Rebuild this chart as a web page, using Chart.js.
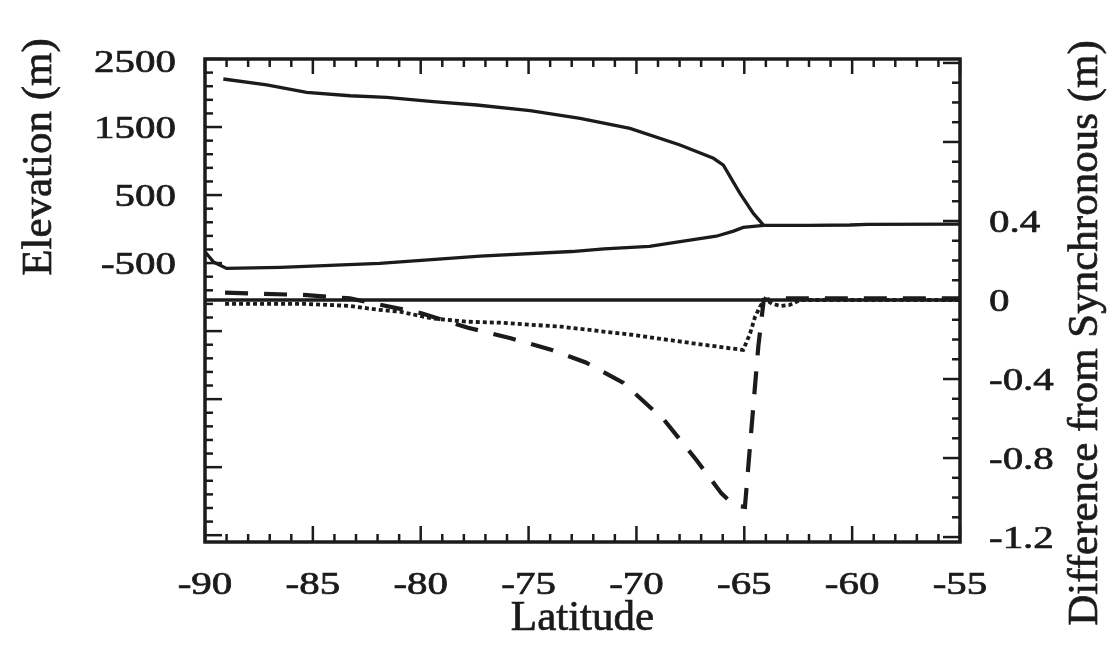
<!DOCTYPE html>
<html>
<head>
<meta charset="utf-8">
<script src="https://cdn.jsdelivr.net/npm/chart.js@4/dist/chart.umd.min.js"></script>
<style>
  html, body { margin: 0; padding: 0; background: #fff; }
  canvas { display: block; }
</style>
</head>
<body>
<canvas id="chart" width="1120" height="657"></canvas>
<script>
// ===== Data =====
// ice surface (m), left axis
const surfaceLat  = [-89.15, -87.14, -85.29, -83.28, -81.58, -79.42, -77.4, -74.93, -72.61, -70.3, -67.98, -66.43, -65.97, -65.2, -64.58, -64.1];
const surfaceElev = [2206, 2118, 2010, 1960, 1937, 1872, 1824, 1740, 1628, 1481, 1235, 1040, 941, 525, 230, 55];

// bed / ice shelf base (m), left axis
const bedLat  = [-90, -89.6, -89.0, -86.5, -81.9, -77.25, -73, -71.5, -69.4, -67.9, -66.3, -65.5, -65.05, -64.1, -62, -60.1, -59.3, -55];
const bedElev = [-334, -485, -578, -563, -505, -397, -330, -290, -255, -180, -105, -30, 25, 55, 55, 60, 68, 72];

// difference from synchronous (m), right axis
const zeroLat  = [-90, -55];
const zeroDiff = [0, 0];

const dotLat  = [-89.07, -85.27, -83.28, -81.95, -80.96, -79.5, -77.81, -76.32, -73.5, -70.14, -67.4, -65.05, -64.73, -64.5, -64.27, -64.04, -63.7, -63.3, -62.9, -62.4, -55];
const dotDiff = [-0.02, -0.02, -0.03, -0.05, -0.059, -0.093, -0.11, -0.115, -0.135, -0.177, -0.219, -0.253, -0.169, -0.085, -0.034, 0.005, -0.02, -0.03, -0.025, 0, 0];

const dashLat  = [-89.07, -85.27, -83.28, -79.97, -77.81, -75.83, -74.0, -72.35, -70.6, -68.71, -67.22, -66.06, -65.45, -64.97, -64.35, -64.1, -63.5, -55];
const dashDiff = [0.037, 0.025, 0.008, -0.067, -0.14, -0.194, -0.25, -0.316, -0.42, -0.608, -0.81, -0.979, -1.04, -1.047, -0.236, 0.0, 0.008, 0.008];

// tick labels
const xTickLabels     = [-90, -85, -80, -75, -70, -65, -60, -55];
const leftTickLabels  = [2500, 1500, 500, -500];
const rightTickLabels = [0.4, 0, -0.4, -0.8, -1.2];

const ink = '#1b1b1b';
const serif = '"Liberation Serif", "Times New Roman", serif';

function pts(xs, ys) {
  return xs.map((x, i) => ({ x: x, y: ys[i] }));
}

// text drawn a bit wider and heavier than normal, like the scanned figure
function drawText(ctx, txt, x, y, size, sx, align, rot) {
  ctx.save();
  ctx.translate(x, y);
  if (rot) ctx.rotate(rot);
  ctx.scale(sx, 1);
  ctx.font = size + 'px ' + serif;
  ctx.fillStyle = ink;
  ctx.strokeStyle = ink;
  ctx.lineWidth = 0.7;
  ctx.textAlign = align;
  ctx.textBaseline = 'alphabetic';
  ctx.fillText(txt, 0, 0);
  ctx.strokeText(txt, 0, 0);
  ctx.restore();
}

function seg(ctx, x1, y1, x2, y2) {
  ctx.beginPath();
  ctx.moveTo(x1, y1);
  ctx.lineTo(x2, y2);
  ctx.stroke();
}

// ===== Frame, inward ticks, labels =====
const framePlugin = {
  id: 'frame',
  beforeDraw(chart) {
    const ctx = chart.ctx;
    ctx.save();
    ctx.fillStyle = '#fff';
    ctx.fillRect(0, 0, chart.width, chart.height);
    ctx.restore();
  },
  afterDatasetsDraw(chart) {
    const ctx = chart.ctx;
    const a = chart.chartArea;
    const xs = chart.scales.x, yl = chart.scales.y, yr = chart.scales.y2;

    ctx.save();
    ctx.strokeStyle = ink;
    ctx.lineWidth = 2.5;

    // latitude ticks, bottom and top
    for (let lat = -90; lat <= -55; lat++) {
      const px = xs.getPixelForValue(lat);
      const big = lat % 5 === 0;
      seg(ctx, px, a.bottom, px, a.bottom - (big ? 16 : 8));
      seg(ctx, px, a.top, px, a.top + (big ? 15 : 8));
    }
    // elevation ticks, left
    for (let v = 2500; v >= -4600; v -= 200) {
      const py = yl.getPixelForValue(v);
      const big = (2500 - v) % 1000 === 0;
      seg(ctx, a.left, py, a.left + (big ? 17 : 8), py);
    }
    // difference ticks, right
    for (let i = -12; i <= 12; i++) {
      const py = yr.getPixelForValue(i / 10);
      const big = i % 4 === 0;
      seg(ctx, a.right, py, a.right - (big ? 17 : 8), py);
    }

    ctx.lineWidth = 3.5;
    ctx.strokeRect(a.left, a.top, a.right - a.left, a.bottom - a.top);
    ctx.restore();

    // tick labels
    xTickLabels.forEach(v => {
      drawText(ctx, String(v), xs.getPixelForValue(v), 594, 32, 1.28, 'center');
    });
    leftTickLabels.forEach(v => {
      const py = Math.max(yl.getPixelForValue(v), 61);
      drawText(ctx, String(v), 176, py + 11, 32, 1.28, 'right');
    });
    rightTickLabels.forEach(v => {
      const py = yr.getPixelForValue(v);
      drawText(ctx, v === 0 ? '0' : v.toFixed(1), 989, py + 11, 32, 1.28, 'left');
    });

    // axis titles
    drawText(ctx, 'Latitude', (a.left + a.right) / 2, 630, 43, 1, 'center');
    drawText(ctx, 'Elevation (m)', 51, 157, 43, 1, 'center', -Math.PI / 2);
    drawText(ctx, 'Difference from Synchronous (m)', 1097, 333, 43, 1, 'center', -Math.PI / 2);
  }
};

const base = { pointRadius: 0, borderColor: ink, tension: 0, fill: false };

new Chart(document.getElementById('chart'), {
  type: 'line',
  data: {
    datasets: [
      { ...base, label: 'Surface', data: pts(surfaceLat, surfaceElev), yAxisID: 'y', borderWidth: 3.3 },
      { ...base, label: 'Bed', data: pts(bedLat, bedElev), yAxisID: 'y', borderWidth: 3.3 },
      { ...base, label: 'Zero', data: pts(zeroLat, zeroDiff), yAxisID: 'y2', borderWidth: 3.3 },
      { ...base, label: 'Dotted', data: pts(dotLat, dotDiff), yAxisID: 'y2', borderWidth: 3.8, borderDash: [4, 3] },
      { ...base, label: 'Dashed', data: pts(dashLat, dashDiff), yAxisID: 'y2', borderWidth: 4.2, borderDash: [23, 16] }
    ]
  },
  options: {
    responsive: false,
    animation: false,
    devicePixelRatio: 1,
    layout: { padding: { left: 205, right: 160, top: 59, bottom: 115 } },
    plugins: { legend: { display: false }, tooltip: { enabled: false } },
    scales: {
      x: { type: 'linear', min: -90, max: -55, display: false },
      y: { type: 'linear', position: 'left', min: -4600, max: 2500, display: false },
      y2: { type: 'linear', position: 'right', min: -1.225, max: 1.22, display: false }
    }
  },
  plugins: [framePlugin]
});
</script>
</body>
</html>
